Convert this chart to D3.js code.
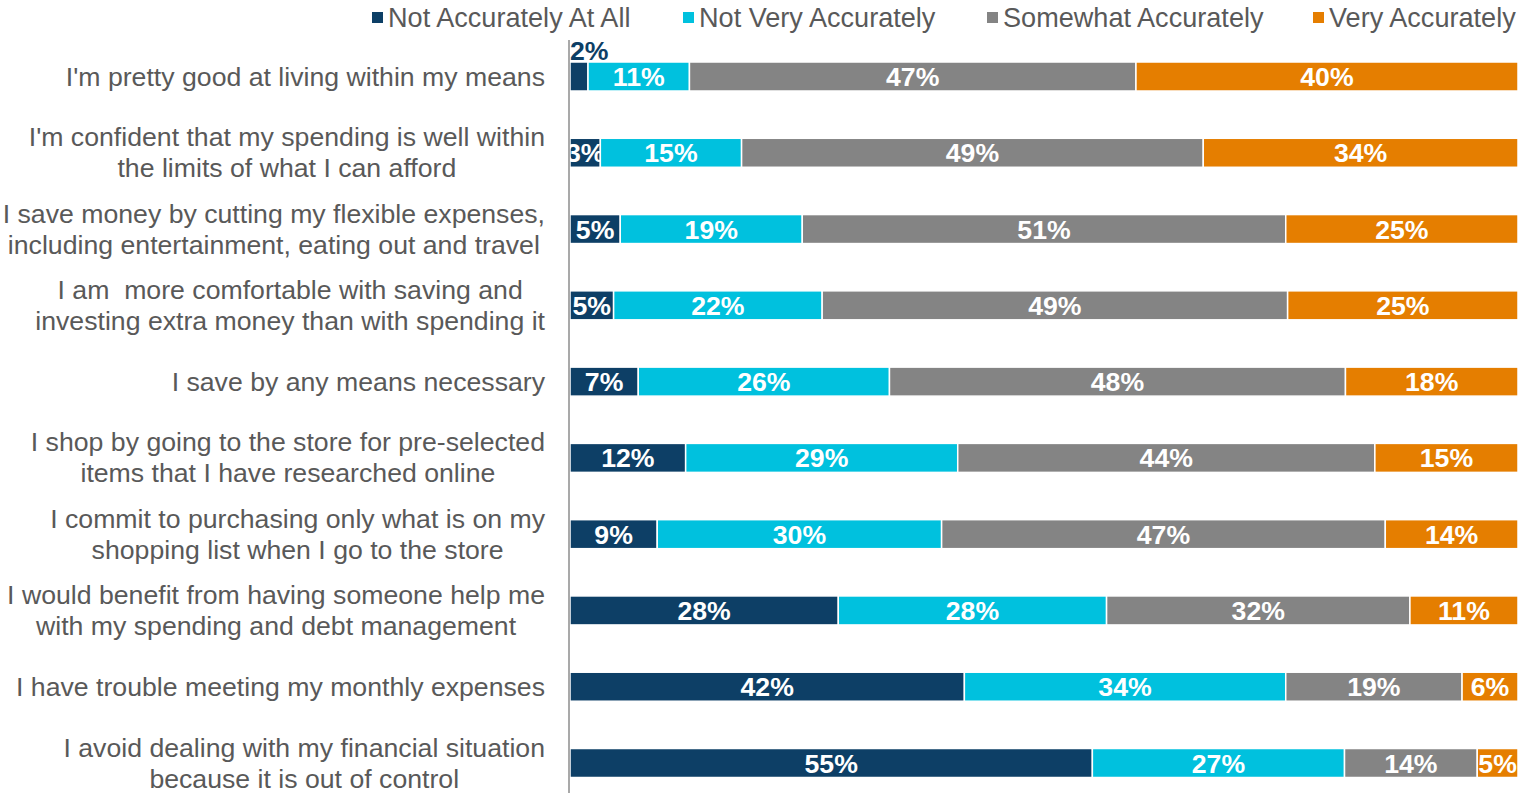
<html>
<head>
<style>
  body { margin: 0; background: #fff; }
  svg text { font-family: "Liberation Sans", Arial, sans-serif; white-space: pre; }
</style>
<script src="https://d3js.org/d3.v7.min.js"></script>
</head>
<body>
<script>
// categories, one entry per row; each is a list of label lines
const categories = [
  ["I'm pretty good at living within my means"],
  ["I'm confident that my spending is well within", "the limits of what I can afford"],
  ["I save money by cutting my flexible expenses,", "including entertainment, eating out and travel"],
  ["I am  more comfortable with saving and", "investing extra money than with spending it"],
  ["I save by any means necessary"],
  ["I shop by going to the store for pre-selected", "items that I have researched online"],
  ["I commit to purchasing only what is on my", "shopping list when I go to the store"],
  ["I would benefit from having someone help me", "with my spending and debt management"],
  ["I have trouble meeting my monthly expenses"],
  ["I avoid dealing with my financial situation", "because it is out of control"]
];
const seriesNames = ["Not Accurately At All", "Not Very Accurately", "Somewhat Accurately", "Very Accurately"];
const colors = ["#0d3f66", "#00c1de", "#848484", "#e57e00"];

// shares (%)
const notAtAll = [1.9, 3.2, 5.3, 4.6, 7.2, 12.2, 9.2, 28.3, 41.6, 55.1];
const notVery  = [10.7, 14.9, 19.2, 22.0, 26.5, 28.7, 30.0, 28.3, 33.9, 26.6];
const somewhat = [47.1, 48.7, 51.0, 49.1, 48.1, 44.0, 46.8, 32.0, 18.6, 14.0];
const veryAcc  = [40.3, 33.2, 24.5, 24.3, 18.2, 15.1, 14.0, 11.4, 5.9, 4.3];

// data labels as printed on the bars
const notAtAllLabels = ["2%", "3%", "5%", "5%", "7%", "12%", "9%", "28%", "42%", "55%"];
const notVeryLabels  = ["11%", "15%", "19%", "22%", "26%", "29%", "30%", "28%", "34%", "27%"];
const somewhatLabels = ["47%", "49%", "51%", "49%", "48%", "44%", "47%", "32%", "19%", "14%"];
const veryAccLabels  = ["40%", "34%", "25%", "25%", "18%", "15%", "14%", "11%", "6%", "5%"];
const labelSets = [notAtAllLabels, notVeryLabels, somewhatLabels, veryAccLabels];

const w = 1518, h = 793;
const svg = d3.select("body").append("svg").attr("width", w).attr("height", h);

const rows = categories.map((c, i) => ({
  key: i,
  [seriesNames[0]]: notAtAll[i],
  [seriesNames[1]]: notVery[i],
  [seriesNames[2]]: somewhat[i],
  [seriesNames[3]]: veryAcc[i]
}));

const stack = d3.stack().keys(seriesNames).offset(d3.stackOffsetExpand);
const series = stack(rows);

const xScale = d3.scaleLinear().domain([0, 1]).range([570, 1518]);
const yScale = d3.scalePoint().domain(d3.range(categories.length)).range([76.5, 763]);
const barH = 29;
const textColor = "#595959";
const fontSize = "26.67px";

// bars
series.forEach((s, si) => {
  const g = svg.append("g");
  g.selectAll("rect")
    .data(s)
    .enter()
    .append("rect")
    .attr("x", d => xScale(d[0]))
    .attr("y", d => yScale(d.data.key) - barH / 2)
    .attr("width", d => xScale(d[1]) - xScale(d[0]))
    .attr("height", barH)
    .attr("fill", colors[si])
    .attr("stroke", "#fff")
    .attr("stroke-width", 1.5);

  g.selectAll("text")
    .data(s)
    .enter()
    .append("text")
    .each(function(d) {
      const wid = xScale(d[1]) - xScale(d[0]);
      const t = d3.select(this)
        .attr("font-size", fontSize)
        .attr("font-weight", "bold")
        .text(labelSets[si][d.data.key]);
      if (wid < 25) {
        // too narrow: label sits above the bar in the series colour
        t.attr("x", xScale(d[0])).attr("y", yScale(d.data.key) - barH / 2 - 2)
          .attr("fill", colors[si]).attr("text-anchor", "start");
      } else {
        t.attr("x", (xScale(d[0]) + xScale(d[1])) / 2).attr("y", yScale(d.data.key) + 9.5)
          .attr("fill", "#fff").attr("text-anchor", "middle");
      }
    });
});

// axis line
svg.append("line")
  .attr("x1", 569).attr("x2", 569)
  .attr("y1", 40).attr("y2", h)
  .attr("stroke", "#8c8c8c").attr("stroke-width", 1.5);

// category labels (centred lines, block right aligned)
const catG = svg.append("g");
categories.forEach((lines, i) => {
  const t = catG.append("text")
    .attr("font-size", fontSize)
    .attr("fill", textColor)
    .attr("text-anchor", "middle");
  const lh = 31;
  const y0 = yScale(i) + 9 - (lines.length - 1) * lh / 2;
  const spans = lines.map((l, li) => t.append("tspan").attr("y", y0 + li * lh).text(l));
  const maxW = d3.max(spans, s => s.node().getComputedTextLength());
  spans.forEach(s => s.attr("x", 545 - maxW / 2));
});

// legend
const legendX = [372, 683, 987, 1313];
const legend = svg.append("g");
seriesNames.forEach((name, i) => {
  legend.append("rect")
    .attr("x", legendX[i]).attr("y", 12)
    .attr("width", 11).attr("height", 11)
    .attr("fill", colors[i]);
  legend.append("text")
    .attr("x", legendX[i] + 16).attr("y", 26.5)
    .attr("font-size", "27.1px")
    .attr("fill", textColor)
    .text(name);
});
</script>
</body>
</html>
